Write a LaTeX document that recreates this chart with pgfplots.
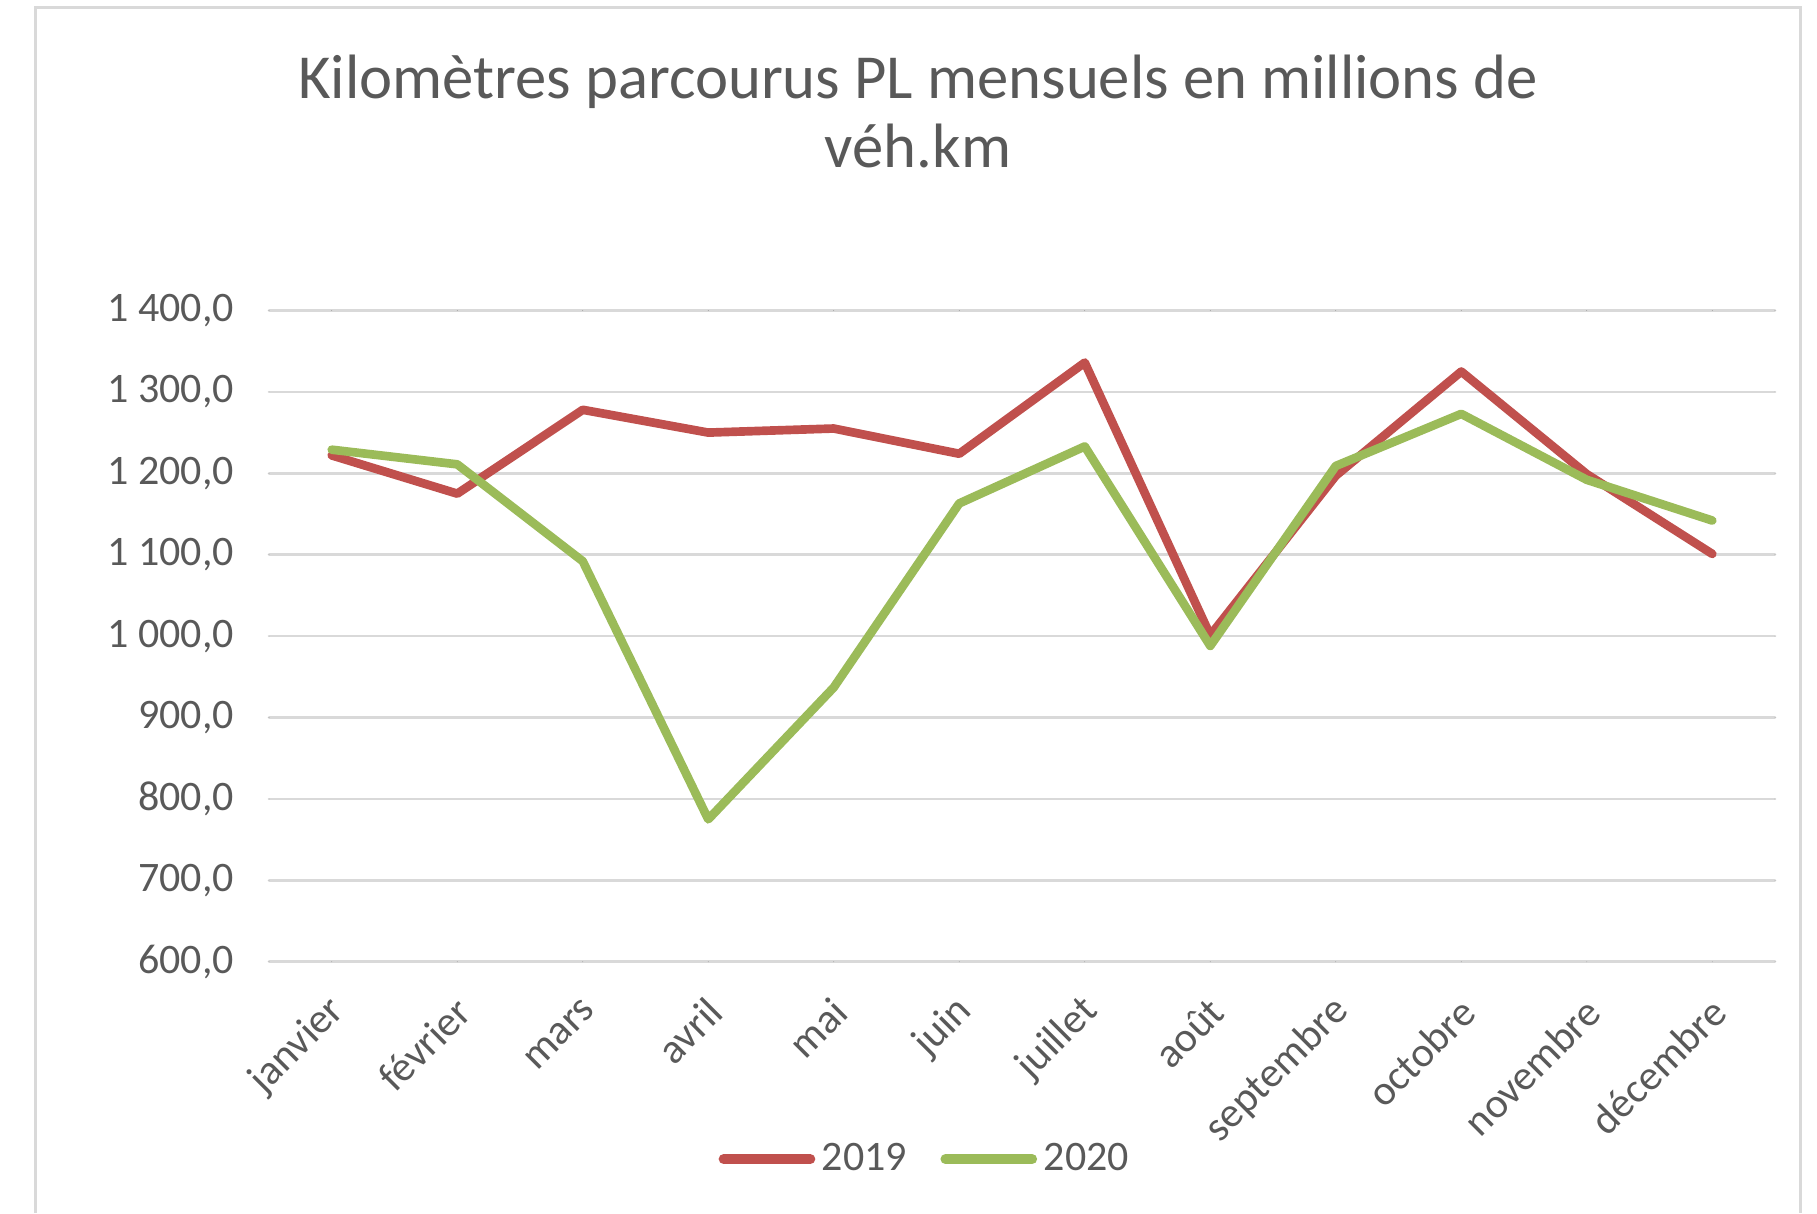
\documentclass[border=0pt]{standalone}
\usepackage{fontspec}
\setmainfont{Carlito}
\usepackage{pgfplots}
\pgfplotsset{compat=1.18}
\definecolor{ser19}{HTML}{C0504D}
\definecolor{ser20}{HTML}{9BBB59}
\definecolor{gridc}{HTML}{D9D9D9}
\definecolor{txt}{HTML}{595959}
\begin{document}
\begin{tikzpicture}
\path[use as bounding box] (0,0) rectangle (545.1pt,363.9pt);
\draw[gridc, line width=0.9pt] (10.5pt,0pt) -- (10.5pt,361.5pt) -- (540pt,361.5pt) -- (540pt,0pt);
\node[anchor=base, text=txt, font=\fontsize{18.8}{22}\selectfont, inner sep=0pt] at (275.4pt,334.3pt) {Kilomètres parcourus PL mensuels en millions de};
\node[anchor=base, text=txt, font=\fontsize{18.8}{22}\selectfont, inner sep=0pt] at (275.4pt,313.5pt) {véh.km};
\begin{axis}[
  at={(80.7pt,75.36pt)}, anchor=south west,
  scale only axis, width=451.8pt, height=195.4pt,
  xmin=-0.5, xmax=11.5, ymin=600, ymax=1400,
  xtick={0,...,11},
  xticklabels={janvier,février,mars,avril,mai,juin,juillet,août,septembre,octobre,novembre,décembre},
  ytick={600,700,...,1400},
  yticklabels={{600,0},{700,0},{800,0},{900,0},{1 000,0},{1 100,0},{1 200,0},{1 300,0},{1 400,0}},
  ymajorgrids, grid style={gridc, line width=0.8pt},
  axis line style={draw=none}, major tick length=0pt,
  tick label style={text=txt, font=\fontsize{12.6}{15}\selectfont},
  yticklabel style={xshift=-7pt},
  xticklabel style={xshift=4.5pt, yshift=-10.5pt, rotate=45, anchor=east},
  legend style={at={(0.437,-0.303)}, anchor=center, draw=none, fill=none, legend columns=2,
    font=\fontsize{12.6}{15}\selectfont, text=txt,
    /tikz/every even column/.append style={column sep=8pt}},
  legend image code/.code={\draw[line width=3pt, line cap=round] (0pt,0pt) -- (26pt,0pt);},
  line join=round, line cap=round,
]
\addplot[ser19, line width=2.6pt] coordinates {(0,1222) (1,1175) (2,1278) (3,1250) (4,1255) (5,1224) (6,1336) (7,1001) (8,1197) (9,1325) (10,1199) (11,1101)};
\addlegendentry{2019}
\addplot[ser20, line width=2.6pt] coordinates {(0,1229) (1,1211) (2,1092) (3,775) (4,937) (5,1163) (6,1233) (7,988) (8,1209) (9,1273) (10,1192) (11,1142)};
\addlegendentry{2020}
\end{axis}
\end{tikzpicture}
\end{document}
